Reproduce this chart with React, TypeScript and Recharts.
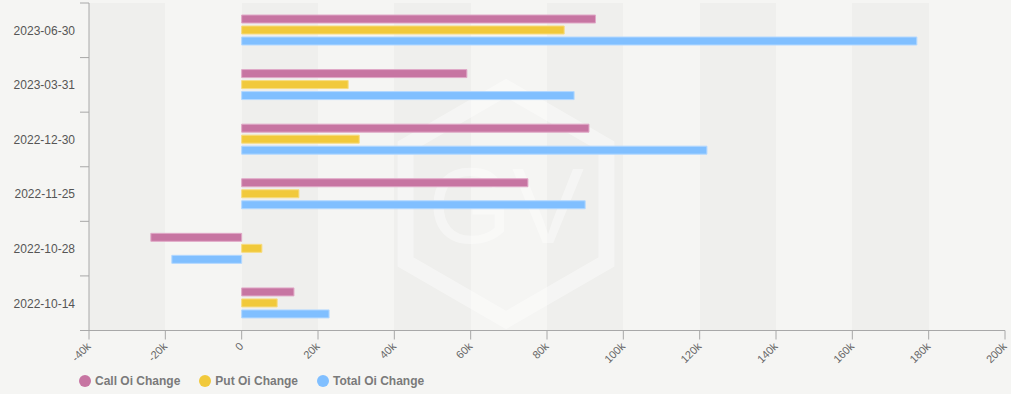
import React from 'react';
import { BarChart, Bar, XAxis, YAxis, CartesianGrid, Legend, Customized } from 'recharts';

// ---- data ----
const dates = ['2023-06-30', '2023-03-31', '2022-12-30', '2022-11-25', '2022-10-28', '2022-10-14'];
const callOiChange = [92700, 59000, 91000, 75000, -23800, 13700];
const putOiChange = [84500, 27900, 30800, 15000, 5300, 9300];
const totalOiChange = [176900, 87100, 121900, 90000, -18300, 22900];
const xTicks = [-40000, -20000, 0, 20000, 40000, 60000, 80000, 100000, 120000, 140000, 160000, 180000, 200000];
const seriesNames = ['Call Oi Change', 'Put Oi Change', 'Total Oi Change'];
const seriesKeys = ['call', 'put', 'total'];
const seriesFills = ['#c775a2', '#f1c93b', '#80bfff'];
const seriesStrokes = ['#e0a9c7', '#f7dc82', '#b3d8ff'];

const data = dates.map((d, i) => ({
  date: d,
  call: callOiChange[i],
  put: putOiChange[i],
  total: totalOiChange[i],
}));

const FONT = "'Liberation Sans', Arial, Helvetica, sans-serif";
const AXIS = '#a8a8a8';

const fmtK = (v: number) => (v === 0 ? '0' : `${v / 1000}k`);

function XTick(props: any) {
  const { x, y, payload } = props;
  return (
    <g transform={`translate(${x + 2.5},${y + 5.5})`}>
      <text x={0} y={0} textAnchor="end" transform="rotate(-45)" fontSize={11} fill="#666" fontFamily={FONT}>
        {fmtK(payload.value)}
      </text>
    </g>
  );
}

function YTick(props: any) {
  const { x, y, payload } = props;
  const off = typeof payload.offset === 'number' && payload.offset > 0 ? payload.offset : 27.3;
  const isLast = payload.value === dates[dates.length - 1];
  return (
    <g>
      <text x={x} y={y} dy={4.3} textAnchor="end" fontSize={12} fill="#555" fontFamily={FONT}>
        {payload.value}
      </text>
      <line x1={x + 5} x2={x + 14} y1={y - off} y2={y - off} stroke={AXIS} />
      {isLast && <line x1={x + 5} x2={x + 14} y1={y + off} y2={y + off} stroke={AXIS} />}
    </g>
  );
}

function Watermark() {
  const cx = 506;
  const cy = 204;
  const r = 116;
  const pts = [0, 1, 2, 3, 4, 5]
    .map((k) => {
      const a = ((-90 + 60 * k) * Math.PI) / 180;
      return `${cx + r * Math.cos(a)},${cy + r * Math.sin(a)}`;
    })
    .join(' ');
  return (
    <g opacity={0.4} pointerEvents="none">
      <polygon points={pts} fill="none" stroke="#ffffff" strokeWidth={16} />
      <text x={cx} y={243} textAnchor="middle" fontSize={108} fill="#ffffff" fontFamily={FONT}>
        GV
      </text>
    </g>
  );
}

function LegendContent() {
  return (
    <div
      style={{
        display: 'flex',
        alignItems: 'center',
        height: 24,
        paddingLeft: 79,
        paddingBottom: 3,
        boxSizing: 'border-box',
        fontFamily: FONT,
      }}
    >
      {seriesNames.map((n, i) => (
        <div key={n} style={{ display: 'flex', alignItems: 'center', marginRight: 19 }}>
          <span
            style={{
              display: 'inline-block',
              width: 12,
              height: 12,
              borderRadius: 6,
              background: seriesFills[i],
              marginRight: 4,
            }}
          />
          <span style={{ fontSize: 12, fontWeight: 'bold', color: '#7a7a7a', lineHeight: '14px' }}>{n}</span>
        </div>
      ))}
    </div>
  );
}

export default function App() {
  return (
    <div
      style={{
        position: 'absolute',
        left: 0,
        top: 0,
        width: 1011,
        height: 394,
        background: '#f5f5f3',
        fontFamily: FONT,
      }}
    >
      <BarChart
        width={1011}
        height={394}
        data={data}
        layout="vertical"
        margin={{ top: 3, right: 6, bottom: 0, left: 0 }}
        barGap={3}
        barSize={8}
      >
        <CartesianGrid
          horizontal={false}
          vertical={true}
          stroke="none"
          verticalFill={['#efefed', '#f5f5f3']}
          fillOpacity={1}
        />
        <Customized component={Watermark} />
        <XAxis
          type="number"
          domain={[-40000, 200000]}
          ticks={xTicks}
          interval={0}
          height={39.5}
          tickSize={9}
          tickMargin={2}
          stroke={AXIS}
          tickLine={{ stroke: AXIS }}
          tick={<XTick />}
        />
        <YAxis
          type="category"
          dataKey="date"
          width={89}
          tickSize={9}
          tickMargin={5}
          stroke={AXIS}
          tickLine={false}
          interval={0}
          tick={<YTick />}
        />
        <Legend
          verticalAlign="bottom"
          align="left"
          wrapperStyle={{ left: 0, bottom: 0, width: 1011, height: 24 }}
          content={<LegendContent />}
        />
        {seriesKeys.map((k, i) => (
          <Bar
            key={k}
            dataKey={k}
            name={seriesNames[i]}
            fill={seriesFills[i]}
            stroke={seriesStrokes[i]}
            strokeWidth={1}
            barSize={8}
            isAnimationActive={false}
          />
        ))}
      </BarChart>
    </div>
  );
}
